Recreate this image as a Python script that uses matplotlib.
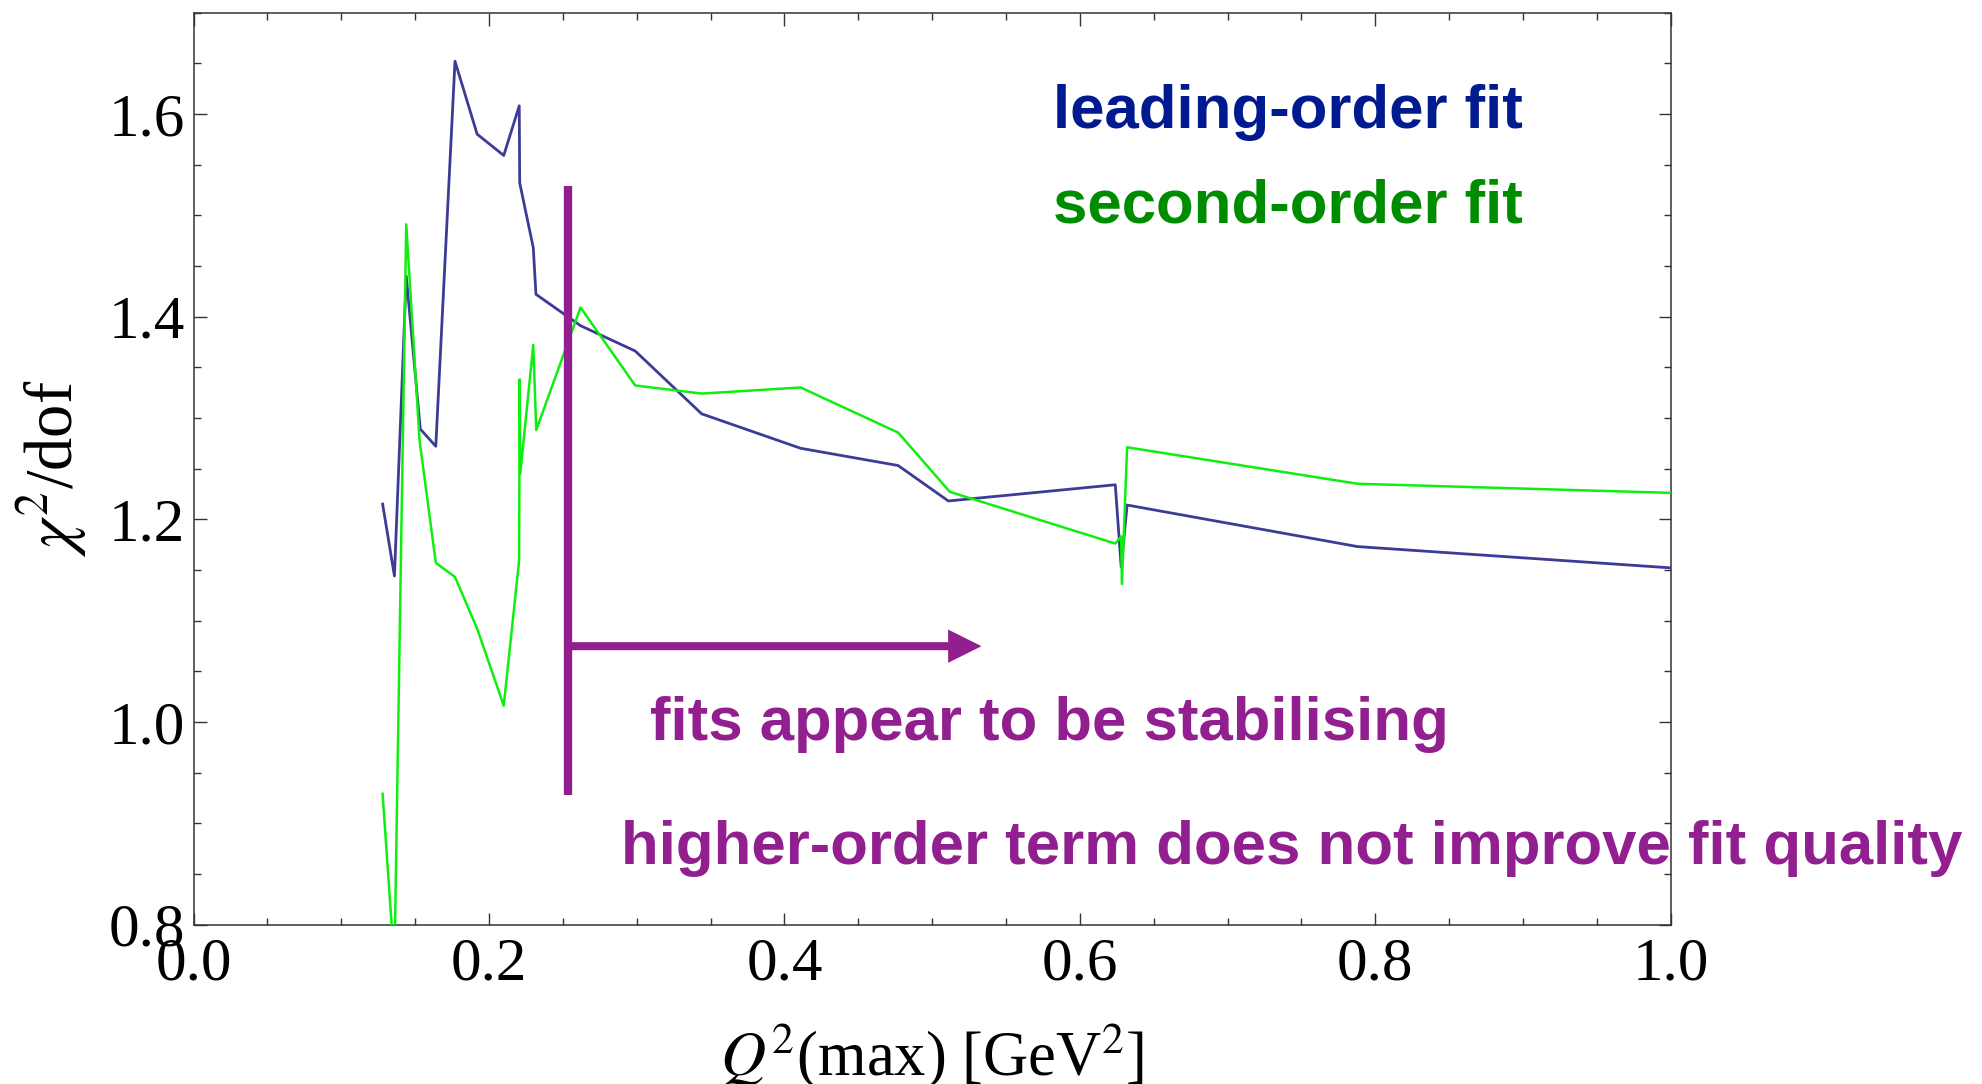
import matplotlib
matplotlib.use("Agg")
import matplotlib.pyplot as plt
from matplotlib.patches import FancyArrowPatch, ArrowStyle
from matplotlib.ticker import MultipleLocator, FormatStrFormatter

# ---- data ----
q2_lo = [0.128, 0.136, 0.144, 0.1535, 0.164, 0.177, 0.192, 0.210, 0.2205, 0.2208,
         0.230, 0.2318, 0.262, 0.299, 0.344, 0.411, 0.477, 0.511, 0.624, 0.628,
         0.632, 0.788, 1.0]
chi_lo = [1.215, 1.144, 1.440, 1.289, 1.272, 1.652, 1.580, 1.559, 1.608, 1.532,
          1.468, 1.422, 1.391, 1.366, 1.304, 1.270, 1.253, 1.218, 1.234, 1.153,
          1.214, 1.173, 1.152]

q2_so = [0.128, 0.136, 0.144, 0.153, 0.164, 0.177, 0.192, 0.210, 0.2204, 0.2208,
         0.2212, 0.230, 0.232, 0.262, 0.299, 0.344, 0.411, 0.477, 0.512, 0.624,
         0.628, 0.6285, 0.632, 0.788, 1.0]
chi_so = [0.929, 0.760, 1.491, 1.278, 1.157, 1.143, 1.092, 1.016, 1.159, 1.338,
          1.245, 1.372, 1.288, 1.409, 1.332, 1.324, 1.330, 1.2855, 1.227, 1.176,
          1.183, 1.136, 1.271, 1.235, 1.226]

x_ticks = [0.0, 0.2, 0.4, 0.6, 0.8, 1.0]
y_ticks = [0.8, 1.0, 1.2, 1.4, 1.6]

# annotation geometry (data units)
cut_x = 0.2534
cut_y = (0.928, 1.529)
arrow_y = 1.0747
arrow_end = 0.5334

BLUE_LINE = "#3c3c96"
GREEN_LINE = "#10ee10"
BLUE_TXT = "#001a90"
GREEN_TXT = "#008c00"
PURPLE = "#921f8f"

plt.rcParams["mathtext.fontset"] = "stix"
plt.rcParams["font.family"] = ["Liberation Serif", "DejaVu Serif"]

fig = plt.figure(figsize=(19.83, 10.84), dpi=100)
ax = fig.add_axes([0.0976, 0.1471, 0.7449, 0.8413])

ax.plot(q2_lo, chi_lo, color=BLUE_LINE, lw=2.0, zorder=3)
ax.plot(q2_so, chi_so, color=GREEN_LINE, lw=1.8, zorder=3)

ax.set_xlim(0, 1.0)
ax.set_ylim(0.8, 1.7)
ax.set_xticks(x_ticks)
ax.set_yticks(y_ticks)
ax.xaxis.set_minor_locator(MultipleLocator(0.05))
ax.yaxis.set_minor_locator(MultipleLocator(0.05))
ax.xaxis.set_major_formatter(FormatStrFormatter("%.1f"))
ax.yaxis.set_major_formatter(FormatStrFormatter("%.1f"))
ax.tick_params(which="both", direction="in", top=True, right=True, width=1.0, color="#333333")
ax.tick_params(which="major", length=9, labelsize=44, pad=6)
ax.tick_params(which="minor", length=5)
ax.tick_params(axis="x", which="major", pad=9)
for s in ax.spines.values():
    s.set_linewidth(1.1)
    s.set_color("#333333")

ax.set_ylabel(r"$\chi^2$/dof", fontsize=48)
ax.yaxis.set_label_coords(-0.0958, 0.5)
ax.yaxis.label.set_va("center")
ax.set_xlabel(r"$Q^2$(max) [GeV$^2$]", fontsize=45)
ax.xaxis.set_label_coords(0.5, -0.165)
ax.xaxis.label.set_va("baseline")

# purple annotations
ax.plot([cut_x, cut_x], list(cut_y), color=PURPLE, lw=6, solid_capstyle="butt", zorder=5)
arr = FancyArrowPatch((cut_x, arrow_y), (arrow_end, arrow_y),
                      arrowstyle=ArrowStyle("Simple", head_length=24, head_width=24, tail_width=5.8),
                      mutation_scale=1, shrinkA=0, shrinkB=0, color=PURPLE, lw=0, zorder=5)
ax.add_patch(arr)

sans = dict(family=["Liberation Sans", "DejaVu Sans"], weight="bold", fontsize=44.5)
ax.text(0.582, 1.586, "leading-order fit", color=BLUE_TXT, va="baseline", ha="left", **sans)
ax.text(0.582, 1.4928, "second-order fit", color=GREEN_TXT, va="baseline", ha="left", **sans)
ax.text(0.309, 0.982, "fits appear to be stabilising", color=PURPLE, va="baseline", ha="left", **sans)
ax.text(0.2894, 0.860, "higher-order term does not improve fit quality", color=PURPLE,
        va="baseline", ha="left", clip_on=False, **sans)

fig.savefig("out.png", dpi=100)
